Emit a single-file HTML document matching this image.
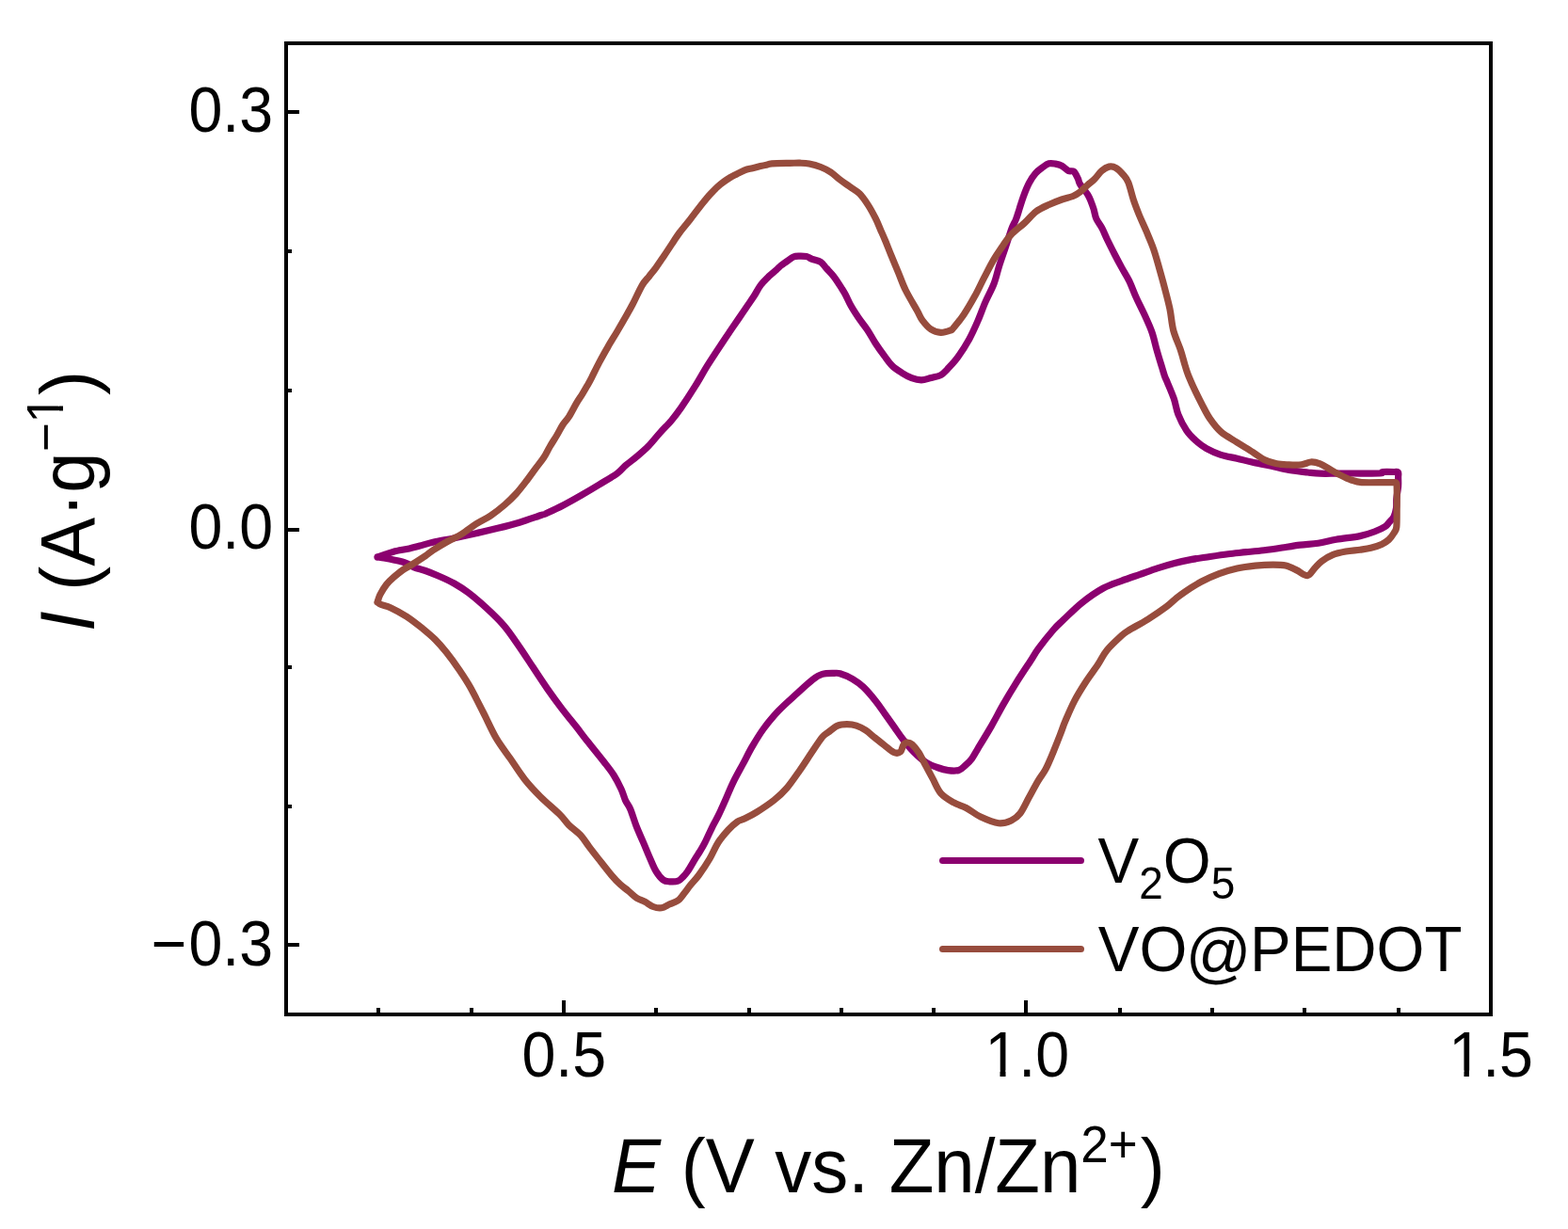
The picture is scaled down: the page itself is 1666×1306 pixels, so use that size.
<!DOCTYPE html>
<html><head><meta charset="utf-8"><title>CV</title>
<style>
html,body{margin:0;padding:0;background:#fff;}
body{width:1666px;height:1306px;overflow:hidden;position:relative;}
svg{position:absolute;left:0;top:0;}
text{font-family:"Liberation Sans",Arial,sans-serif;fill:#000;}
</style></head><body>
<svg width="1666" height="1306" viewBox="0 0 1666 1306">
<rect x="0" y="0" width="1666" height="1306" fill="#fff"/>
<g fill="#000" shape-rendering="crispEdges">
<rect x="302" y="44" width="1284" height="4"/>
<rect x="302" y="1076" width="1284" height="4"/>
<rect x="302" y="44" width="4" height="1036"/>
<rect x="1582" y="44" width="4" height="1036"/>
<rect x="306" y="117" width="12" height="4"/><rect x="306" y="561" width="12" height="4"/><rect x="306" y="1002" width="12" height="4"/><rect x="306" y="265" width="4" height="4"/><rect x="306" y="413" width="4" height="4"/><rect x="306" y="707" width="4" height="4"/><rect x="306" y="855" width="4" height="4"/><rect x="597" y="1063" width="4" height="13"/><rect x="1088" y="1063" width="4" height="13"/><rect x="400" y="1071" width="4" height="5"/><rect x="499" y="1071" width="4" height="5"/><rect x="695" y="1071" width="4" height="5"/><rect x="794" y="1071" width="4" height="5"/><rect x="892" y="1071" width="4" height="5"/><rect x="990" y="1071" width="4" height="5"/><rect x="1188" y="1071" width="4" height="5"/><rect x="1286" y="1071" width="4" height="5"/><rect x="1384" y="1071" width="4" height="5"/><rect x="1484" y="1071" width="4" height="5"/>
</g>
<g fill="none" stroke-width="7.2" stroke-linejoin="round" stroke-linecap="round">
<path stroke="#8b006f" d="M401.0 592.0C402.5 591.5 407.1 590.0 410.0 589.0C412.9 588.0 414.2 587.2 418.3 586.2C422.4 585.2 430.2 583.9 434.8 582.9C439.4 581.9 441.8 581.1 446.0 580.0C450.2 578.9 453.8 577.7 460.0 576.3C466.2 574.9 475.4 573.3 483.0 571.7C490.6 570.1 498.2 568.4 505.9 566.7C513.5 565.0 521.2 563.2 528.9 561.3C536.6 559.4 544.2 557.5 551.9 555.2C559.6 552.9 570.3 549.0 574.9 547.5C579.5 546.0 575.6 547.8 579.5 546.0C583.4 544.2 592.0 540.3 598.3 537.0C604.6 533.7 611.0 530.1 617.4 526.4C623.8 522.7 630.2 518.9 636.6 515.0C643.0 511.1 651.1 506.5 655.8 503.1C660.4 499.7 661.0 497.8 664.5 494.8C668.0 491.8 672.7 488.5 676.8 485.0C680.9 481.5 684.9 478.2 689.0 474.0C693.1 469.8 697.2 464.4 701.3 459.9C705.4 455.3 709.8 451.1 713.5 446.7C717.2 442.3 719.4 439.4 723.6 433.4C727.8 427.3 733.8 418.1 738.6 410.4C743.4 402.7 747.5 395.0 752.3 387.4C757.1 379.8 763.3 370.5 767.3 364.5C771.2 358.5 773.0 355.9 776.0 351.5C779.0 347.1 782.3 342.4 785.0 338.4C787.7 334.4 789.8 331.3 792.4 327.4C795.0 323.5 798.2 319.2 800.9 315.1C803.5 311.0 805.6 306.5 808.3 302.9C811.0 299.3 814.1 296.4 816.9 293.7C819.7 291.0 822.9 288.6 825.1 286.6C827.3 284.7 828.0 283.6 830.0 282.0C832.0 280.4 835.2 278.2 837.4 276.7C839.6 275.2 841.1 273.8 843.0 273.0C844.9 272.2 846.7 272.2 849.0 272.1C851.3 272.0 854.5 272.1 856.8 272.6C859.1 273.1 860.3 274.3 862.9 275.3C865.5 276.3 869.5 276.8 872.1 278.5C874.7 280.2 875.9 282.8 878.2 285.3C880.5 287.8 883.2 290.4 885.8 293.7C888.3 297.0 891.5 302.0 893.5 305.2C895.5 308.4 896.3 309.5 898.1 312.8C899.9 316.1 901.9 321.0 904.2 325.1C906.5 329.2 909.0 333.0 911.9 337.3C914.8 341.6 918.7 346.2 921.7 350.7C924.7 355.2 927.0 359.9 930.0 364.5C933.0 369.1 936.6 374.2 939.6 378.2C942.6 382.2 944.8 385.6 947.9 388.6C951.0 391.6 954.8 394.0 958.2 396.2C961.7 398.4 965.2 400.4 968.6 401.7C972.0 403.0 975.5 403.9 978.9 403.9C982.3 403.9 985.8 402.4 989.3 401.5C992.8 400.6 996.7 400.1 999.6 398.6C1002.5 397.1 1003.5 395.5 1006.5 392.4C1009.5 389.2 1013.7 385.1 1017.6 379.7C1021.5 374.3 1026.3 366.7 1029.9 360.2C1033.5 353.7 1036.3 347.2 1039.1 340.7C1041.9 334.2 1044.1 327.6 1046.9 321.1C1049.7 314.6 1053.5 308.1 1056.0 301.6C1058.5 295.1 1059.7 288.6 1061.8 282.1C1063.9 275.6 1066.2 269.1 1068.4 262.6C1070.6 256.1 1073.1 247.9 1074.9 243.0C1076.8 238.1 1078.1 236.5 1079.5 233.0C1080.9 229.5 1081.8 226.1 1083.1 222.0C1084.4 217.9 1085.9 212.8 1087.6 208.2C1089.3 203.6 1091.3 198.5 1093.4 194.5C1095.5 190.5 1097.9 186.9 1100.3 184.1C1102.7 181.3 1105.2 179.6 1107.6 177.9C1110.0 176.2 1112.2 174.4 1114.5 173.8C1116.8 173.2 1119.1 173.7 1121.4 174.1C1123.7 174.5 1125.9 175.0 1128.2 176.2C1130.5 177.4 1133.0 180.4 1135.1 181.4C1137.2 182.4 1139.3 181.0 1141.0 182.4C1142.7 183.8 1144.3 187.7 1145.4 189.9C1146.5 192.1 1145.8 192.7 1147.5 195.6C1149.2 198.5 1154.0 204.0 1155.9 207.1C1157.8 210.2 1158.1 211.5 1159.1 214.0C1160.1 216.5 1161.0 218.9 1162.0 222.0C1163.0 225.1 1163.3 229.0 1164.8 232.4C1166.3 235.8 1169.1 239.0 1171.0 242.7C1172.9 246.4 1174.2 250.0 1176.4 254.5C1178.6 259.0 1181.3 264.5 1183.9 269.5C1186.5 274.5 1189.2 279.6 1191.8 284.4C1194.4 289.2 1197.1 293.0 1199.7 298.4C1202.3 303.8 1204.7 310.7 1207.5 316.8C1210.3 322.9 1213.5 329.0 1216.3 335.1C1219.1 341.2 1222.0 347.4 1224.1 353.5C1226.2 359.6 1227.3 365.8 1229.1 371.9C1230.8 378.0 1233.2 385.7 1234.6 390.3C1236.0 394.9 1236.4 396.8 1237.4 399.5C1238.4 402.2 1238.8 402.8 1240.5 406.8C1242.2 410.8 1245.4 418.1 1247.3 423.7C1249.2 429.3 1249.7 434.9 1251.9 440.5C1254.1 446.1 1257.6 452.8 1260.7 457.4C1263.8 462.0 1266.9 464.9 1270.4 468.1C1273.9 471.3 1277.4 474.1 1281.9 476.7C1286.4 479.2 1291.8 481.6 1297.2 483.4C1302.6 485.1 1308.9 485.9 1314.4 487.2C1319.9 488.5 1324.1 489.8 1330.0 491.1C1335.9 492.4 1343.2 493.7 1349.8 495.1C1356.4 496.5 1363.0 498.4 1369.6 499.5C1376.2 500.6 1383.9 501.4 1389.4 502.0C1394.9 502.6 1397.5 503.0 1402.6 503.2C1407.7 503.4 1414.3 503.2 1420.0 503.2C1425.7 503.2 1428.9 503.0 1436.6 503.0C1444.3 503.0 1460.6 503.2 1466.0 503.0C1471.4 502.8 1466.5 501.8 1469.0 501.5C1471.5 501.2 1478.2 501.4 1481.0 501.5C1483.8 501.6 1484.7 500.9 1485.5 501.8C1486.3 502.7 1485.6 504.5 1485.6 507.0C1485.6 509.5 1485.9 513.2 1485.6 517.0C1485.3 520.8 1484.1 526.2 1483.8 530.0C1483.5 533.8 1484.0 536.8 1483.5 540.0C1483.0 543.2 1482.2 546.5 1481.0 549.0C1479.8 551.5 1477.5 553.2 1476.0 555.0C1474.5 556.8 1474.4 557.8 1471.8 559.5C1469.2 561.2 1464.8 563.3 1460.3 565.0C1455.8 566.7 1451.8 568.2 1445.0 569.6C1438.2 571.0 1427.1 572.0 1419.7 573.3C1412.3 574.6 1407.0 576.2 1400.6 577.2C1394.2 578.2 1387.8 578.3 1381.4 579.1C1375.0 579.9 1368.7 581.0 1362.3 582.0C1355.9 583.0 1349.5 584.0 1343.1 584.8C1336.7 585.6 1330.4 586.1 1324.0 586.7C1317.6 587.4 1311.3 587.9 1304.9 588.7C1298.5 589.5 1292.1 590.5 1285.7 591.5C1279.3 592.5 1272.9 593.2 1266.6 594.4C1260.3 595.6 1254.2 596.9 1248.0 598.5C1241.8 600.1 1235.9 601.9 1229.7 603.9C1223.5 605.9 1217.0 608.4 1210.6 610.6C1204.2 612.8 1197.8 614.9 1191.4 617.3C1185.0 619.7 1179.2 621.2 1172.3 625.0C1165.4 628.8 1156.9 634.7 1149.8 640.3C1142.7 645.9 1135.0 653.9 1129.9 658.7C1124.9 663.5 1123.9 663.9 1119.5 669.0C1115.1 674.1 1107.6 683.4 1103.4 689.1C1099.2 694.8 1098.5 696.9 1094.5 703.0C1090.5 709.1 1084.4 718.2 1079.6 725.9C1074.8 733.5 1070.2 741.2 1065.8 748.9C1061.4 756.6 1057.6 764.2 1053.2 771.9C1048.8 779.5 1042.9 789.1 1039.4 794.8C1036.0 800.5 1034.8 803.2 1032.5 806.3C1030.2 809.4 1027.8 811.5 1025.5 813.5C1023.2 815.5 1021.8 817.6 1018.7 818.5C1015.7 819.4 1011.0 819.1 1007.2 818.6C1003.4 818.1 999.5 816.8 995.7 815.5C991.9 814.2 988.5 813.3 984.4 810.6C980.3 807.9 975.1 803.2 971.0 799.1C966.9 795.0 963.0 790.2 959.5 785.7C956.0 781.2 953.2 776.8 950.0 772.3C946.8 767.8 943.6 763.4 940.4 758.9C937.2 754.4 934.6 750.3 930.8 745.5C927.0 740.7 921.5 734.2 917.4 730.2C913.2 726.2 910.0 724.0 905.9 721.6C901.8 719.2 895.8 716.8 892.5 715.8C889.2 714.8 889.4 715.3 886.3 715.4C883.2 715.5 877.5 715.3 873.7 716.4C869.9 717.5 868.0 718.7 863.6 722.1C859.2 725.5 853.3 731.0 847.2 736.6C841.1 742.2 833.0 749.2 827.0 755.5C821.0 761.8 815.8 768.2 811.2 774.5C806.6 780.8 802.9 787.1 799.2 793.4C795.5 799.7 792.5 806.1 789.1 812.4C785.7 818.7 782.1 825.0 779.0 831.3C775.9 837.6 773.3 844.4 770.7 850.3C768.1 856.2 765.4 862.2 763.2 866.7C761.0 871.2 759.8 872.9 757.4 877.6C755.0 882.4 751.4 890.6 749.1 895.2C746.8 899.8 745.3 902.1 743.5 905.0C741.7 907.9 740.6 909.3 738.5 912.8C736.4 916.3 732.8 922.8 730.6 926.0C728.4 929.2 727.2 930.3 725.5 932.0C723.8 933.7 722.7 935.4 720.4 936.2C718.1 937.0 714.2 937.0 711.6 936.8C709.0 936.6 707.0 936.8 704.6 935.0C702.2 933.2 699.4 929.7 697.1 926.0C694.8 922.3 693.2 917.9 690.9 912.8C688.6 907.7 686.0 901.1 683.5 895.2C681.0 889.3 678.3 883.5 676.0 877.6C673.7 871.7 671.7 864.5 669.8 860.0C667.9 855.5 666.1 854.1 664.5 850.5C662.9 846.9 662.1 843.0 660.0 838.5C657.9 834.0 655.0 828.2 652.0 823.5C649.0 818.8 646.7 816.0 642.0 810.0C637.3 804.0 629.0 793.8 624.0 787.5C619.0 781.2 616.8 778.0 612.3 772.3C607.8 766.6 602.1 759.8 597.0 753.1C591.9 746.4 586.8 739.4 581.7 732.1C576.6 724.8 571.4 716.8 566.3 709.1C561.2 701.4 556.1 693.4 551.0 686.1C545.9 678.8 541.4 671.8 535.7 665.1C530.0 658.4 523.0 651.8 516.6 645.9C510.2 640.0 503.1 634.0 497.4 629.7C491.7 625.4 487.9 623.0 482.6 620.0C477.3 617.0 470.9 614.2 465.8 612.0C460.7 609.8 456.3 608.0 452.0 606.5C447.7 605.0 443.4 604.3 440.0 602.9C436.6 601.5 435.0 599.6 431.4 598.3C427.8 597.0 422.2 595.9 418.3 595.0C414.4 594.1 410.9 593.5 408.0 593.0C405.1 592.5 402.2 592.2 401.0 592.0"/>
<path stroke="#974c3d" d="M401.0 640.0C401.5 638.7 402.2 635.2 403.8 632.0C405.4 628.8 408.4 624.0 410.7 621.0C413.0 618.0 414.7 616.6 417.6 614.1C420.5 611.6 424.5 608.2 427.9 605.8C431.3 603.4 434.2 602.1 438.2 599.6C442.2 597.1 448.4 593.2 452.0 590.7C455.6 588.2 456.1 587.2 460.0 584.7C463.9 582.2 470.2 578.4 475.3 575.5C480.4 572.6 485.5 570.6 490.6 567.5C495.7 564.4 500.8 560.1 505.9 556.8C511.0 553.5 516.2 551.3 521.3 547.9C526.4 544.5 532.1 540.0 536.6 536.1C541.1 532.2 544.6 528.8 548.5 524.5C552.4 520.2 556.5 514.7 560.0 510.2C563.5 505.7 566.4 501.4 569.4 497.4C572.4 493.4 575.4 489.8 577.9 486.0C580.4 482.2 582.0 478.3 584.3 474.5C586.5 470.7 589.1 466.8 591.4 463.0C593.7 459.2 595.7 454.9 597.9 451.5C600.1 448.1 602.4 446.1 604.8 442.3C607.2 438.5 610.1 432.6 612.4 428.7C614.7 424.8 616.5 422.3 618.5 419.1C620.5 415.9 622.4 412.6 624.1 409.6C625.8 406.6 626.5 405.4 628.6 401.3C630.7 397.2 633.8 390.5 636.7 385.1C639.6 379.7 642.6 374.2 645.8 368.8C648.9 363.4 652.4 357.9 655.6 352.5C658.8 347.1 662.2 341.2 665.0 336.3C667.8 331.4 669.3 328.8 672.2 323.3C675.1 317.8 679.4 308.0 682.3 303.1C685.2 298.2 687.2 296.9 689.7 293.7C692.2 290.5 694.5 287.8 697.2 284.1C699.9 280.4 702.7 276.1 705.8 271.5C708.9 266.9 713.2 260.3 715.9 256.2C718.6 252.1 719.4 250.8 722.2 247.0C725.0 243.2 729.3 238.2 732.9 233.7C736.5 229.1 740.0 224.2 743.6 219.7C747.2 215.2 750.7 210.6 754.3 206.7C757.9 202.8 761.4 199.2 765.0 196.2C768.6 193.2 772.8 190.5 775.8 188.6C778.8 186.7 780.2 186.3 782.8 185.0C785.4 183.7 788.4 181.9 791.2 180.8C794.0 179.8 796.8 179.4 799.6 178.7C802.4 178.0 805.5 177.2 808.0 176.6C810.5 176.0 812.3 175.6 814.3 175.2C816.3 174.8 815.9 174.2 820.1 173.9C824.3 173.6 834.3 173.5 839.3 173.4C844.3 173.3 846.6 173.1 850.0 173.2C853.4 173.3 856.0 173.3 859.7 174.0C863.4 174.7 868.2 176.0 872.0 177.5C875.8 179.0 879.4 180.7 882.7 182.9C886.0 185.1 888.6 187.9 891.9 190.5C895.2 193.1 899.0 195.6 902.6 198.2C906.2 200.8 910.0 202.5 913.3 205.8C916.6 209.1 919.7 213.8 922.5 218.1C925.3 222.4 928.0 227.6 930.2 231.9C932.4 236.2 933.7 239.9 935.5 244.0C937.3 248.1 939.0 251.8 940.9 256.4C942.8 261.0 944.7 266.1 947.0 271.7C949.3 277.3 952.2 284.0 954.7 290.1C957.2 296.2 959.0 301.9 962.3 308.5C965.6 315.1 971.4 324.7 974.4 330.0C977.4 335.3 977.5 337.0 980.0 340.3C982.5 343.6 986.0 347.8 989.3 350.0C992.6 352.2 996.2 353.2 999.6 353.4C1003.0 353.6 1007.7 351.8 1009.9 351.0C1012.1 350.2 1010.6 351.3 1013.0 348.5C1015.4 345.7 1020.3 339.8 1024.1 334.2C1027.9 328.6 1032.2 321.1 1035.8 314.6C1039.4 308.1 1042.2 301.6 1045.6 295.1C1049.0 288.6 1052.8 281.0 1056.0 275.6C1059.2 270.2 1061.5 267.0 1064.5 262.6C1067.5 258.2 1070.2 253.8 1074.2 249.5C1078.2 245.2 1084.1 241.1 1088.5 237.0C1092.9 232.9 1096.4 228.1 1100.7 224.8C1105.0 221.6 1109.9 219.6 1114.5 217.5C1119.1 215.4 1124.0 213.5 1128.2 212.0C1132.5 210.5 1136.8 209.8 1140.0 208.5C1143.2 207.2 1145.2 205.8 1147.7 203.9C1150.2 202.0 1152.8 199.1 1155.3 196.8C1157.8 194.5 1160.5 192.9 1163.0 190.3C1165.5 187.8 1168.0 183.7 1170.6 181.5C1173.1 179.3 1175.8 177.6 1178.3 177.1C1180.8 176.6 1183.4 177.1 1185.9 178.6C1188.5 180.1 1191.4 183.3 1193.6 185.9C1195.8 188.5 1197.1 189.4 1198.9 194.0C1200.7 198.6 1202.7 207.4 1204.6 213.2C1206.5 218.9 1208.2 223.1 1210.4 228.5C1212.6 233.9 1215.5 239.6 1218.0 245.7C1220.5 251.8 1223.5 258.5 1225.7 264.9C1227.9 271.3 1229.5 277.3 1231.4 284.0C1233.3 290.7 1235.3 297.8 1237.2 305.1C1239.1 312.4 1241.3 320.4 1242.9 328.0C1244.5 335.6 1244.8 343.6 1246.7 351.0C1248.6 358.4 1252.4 365.9 1254.4 372.1C1256.5 378.3 1257.6 383.5 1259.0 388.0C1260.4 392.5 1260.8 394.4 1262.7 399.1C1264.6 403.8 1267.8 411.0 1270.4 416.4C1273.0 421.8 1275.5 426.9 1278.1 431.7C1280.6 436.5 1282.5 440.6 1285.7 445.1C1288.9 449.7 1292.7 454.9 1297.4 459.0C1302.2 463.1 1308.6 466.4 1314.2 470.0C1319.8 473.6 1326.3 477.4 1331.1 480.5C1335.9 483.6 1339.0 486.4 1343.2 488.5C1347.4 490.6 1352.0 491.9 1356.4 492.8C1360.8 493.7 1365.2 493.7 1369.6 493.9C1374.0 494.1 1378.9 494.3 1382.8 493.8C1386.7 493.3 1389.4 491.2 1392.7 491.0C1396.0 490.8 1399.3 491.6 1402.6 492.8C1405.9 494.0 1409.2 496.5 1412.5 498.4C1415.8 500.3 1418.6 502.1 1422.4 504.0C1426.2 505.9 1431.5 508.6 1435.6 510.0C1439.7 511.4 1440.8 512.2 1446.8 512.6C1452.8 513.0 1466.2 512.6 1471.7 512.6C1477.2 512.6 1477.5 512.6 1479.5 512.7C1481.5 512.8 1482.7 511.9 1483.5 513.0C1484.3 514.0 1484.1 514.5 1484.2 519.0C1484.3 523.5 1484.3 533.2 1484.2 540.0C1484.1 546.8 1484.3 555.6 1483.8 560.0C1483.3 564.4 1482.4 564.2 1481.0 566.5C1479.6 568.8 1477.8 571.5 1475.6 573.5C1473.4 575.5 1471.2 576.9 1468.0 578.4C1464.8 579.9 1460.3 581.3 1456.5 582.3C1452.7 583.3 1449.4 583.6 1445.0 584.2C1440.6 584.8 1434.8 585.1 1429.9 586.0C1425.1 586.9 1420.2 587.9 1415.9 589.6C1411.7 591.3 1407.6 593.9 1404.4 596.3C1401.2 598.7 1399.2 601.5 1396.7 604.0C1394.2 606.5 1392.3 611.3 1389.1 611.6C1385.9 611.9 1381.4 607.6 1377.6 605.9C1373.8 604.1 1370.2 602.1 1366.1 601.1C1361.9 600.1 1358.1 600.1 1352.7 600.1C1347.3 600.1 1340.0 600.5 1333.6 601.1C1327.2 601.8 1320.8 602.6 1314.4 604.0C1308.0 605.4 1301.7 607.3 1295.3 609.7C1288.9 612.1 1282.2 615.1 1276.1 618.3C1270.0 621.5 1263.2 626.0 1258.9 628.9C1254.6 631.8 1253.2 632.9 1250.0 635.5C1246.8 638.1 1244.5 640.9 1239.4 644.7C1234.3 648.5 1226.1 654.1 1219.5 658.2C1212.9 662.4 1204.3 666.7 1199.6 669.6C1194.9 672.5 1195.3 672.1 1191.4 675.7C1187.5 679.3 1180.2 685.9 1176.1 691.0C1171.9 696.1 1170.3 700.5 1166.5 706.3C1162.7 712.0 1157.2 719.1 1153.1 725.5C1149.0 731.9 1145.2 737.9 1141.7 744.6C1138.2 751.3 1134.7 759.6 1132.1 765.7C1129.5 771.8 1128.5 775.3 1126.3 781.0C1124.1 786.7 1121.2 794.0 1118.7 800.1C1116.2 806.2 1113.6 812.5 1111.0 817.4C1108.4 822.3 1106.0 824.8 1103.1 829.7C1100.2 834.6 1096.7 841.2 1093.5 847.0C1090.3 852.8 1087.2 860.1 1084.0 864.2C1080.8 868.4 1078.2 870.1 1074.4 871.9C1070.6 873.6 1066.4 875.4 1061.0 874.7C1055.6 874.1 1047.7 870.7 1041.9 868.0C1036.2 865.3 1031.3 861.0 1026.5 858.5C1021.7 856.0 1017.6 855.3 1013.1 852.7C1008.6 850.1 1003.4 847.3 999.7 843.1C996.0 838.9 993.6 832.2 991.0 827.4C988.4 822.6 986.5 819.0 984.0 814.4C981.5 809.8 978.5 803.4 976.0 799.5C973.5 795.6 971.0 792.8 969.0 791.0C967.0 789.2 965.5 788.9 964.0 789.0C962.5 789.1 961.2 789.8 960.0 791.5C958.8 793.2 958.3 797.7 956.6 799.0C954.9 800.3 952.5 800.7 949.7 799.5C946.9 798.3 943.0 794.6 939.7 792.0C936.4 789.4 933.1 786.8 929.8 784.1C926.5 781.5 923.1 778.3 919.8 776.1C916.5 773.9 913.2 772.2 909.9 771.1C906.6 770.0 903.2 769.7 899.9 769.7C896.6 769.7 893.3 769.7 890.0 771.1C886.7 772.5 882.7 776.1 880.0 778.1C877.3 780.1 876.7 779.7 873.7 783.3C870.8 786.9 866.3 793.9 862.3 799.8C858.3 805.7 854.1 812.4 849.7 818.7C845.3 825.0 840.3 832.4 835.8 837.7C831.3 843.0 827.8 846.1 822.5 850.3C817.2 854.5 809.5 859.6 804.2 862.9C799.0 866.2 794.5 868.3 791.0 870.0C787.5 871.7 786.3 871.2 783.4 873.2C780.5 875.2 777.1 878.3 773.7 882.0C770.3 885.7 766.4 890.1 763.1 895.2C759.8 900.3 757.3 907.0 753.9 912.8C750.5 918.6 745.9 925.4 742.5 930.0C739.1 934.6 736.2 937.3 733.6 940.6C731.0 943.9 728.8 947.1 726.6 949.8C724.4 952.5 722.9 955.1 720.4 956.9C717.9 958.7 714.5 959.5 711.6 960.8C708.7 962.1 705.7 964.3 702.8 964.8C699.9 965.2 696.9 964.6 694.0 963.5C691.1 962.4 688.1 959.8 685.2 958.2C682.3 956.7 679.3 956.1 676.4 954.2C673.5 952.3 670.5 949.1 667.6 946.7C664.7 944.3 661.7 942.4 658.8 939.7C655.9 937.0 653.7 934.8 650.0 930.4C646.3 926.0 640.5 918.5 636.5 913.4C632.5 908.3 629.1 904.0 625.8 899.6C622.5 895.2 620.2 891.1 616.6 887.3C613.0 883.5 608.0 880.3 604.3 876.6C600.6 872.9 599.5 870.3 594.5 865.3C589.5 860.3 580.5 852.9 574.3 846.7C568.1 840.5 562.8 834.9 557.5 828.2C552.2 821.5 547.3 813.6 542.3 806.3C537.2 799.0 532.0 792.5 527.2 784.4C522.4 776.3 518.3 766.5 513.7 757.5C509.1 748.5 503.8 737.8 499.5 730.1C495.2 722.5 491.9 717.8 487.7 711.6C483.5 705.4 478.4 698.4 474.2 693.1C470.0 687.8 466.6 683.8 462.4 679.6C458.2 675.4 453.9 671.9 448.9 667.8C443.8 663.7 437.7 658.9 432.1 655.2C426.5 651.6 419.8 648.0 415.3 645.9C410.8 643.8 407.4 643.5 405.0 642.5C402.6 641.5 401.7 640.4 401.0 640.0"/>
</g>
<g stroke-width="7" stroke-linecap="round">
<line x1="1001.5" y1="914.5" x2="1148.5" y2="914.5" stroke="#8b006f"/>
<line x1="1001.5" y1="1008.5" x2="1148.5" y2="1008.5" stroke="#974c3d"/>
</g>
<g font-size="64.5">
<text transform="translate(200.5,140.3) scale(1,1.05)">0.3</text>
<text transform="translate(200.5,583.4) scale(1,1.05)">0.0</text>
<text transform="translate(160.8,1025.5) scale(1,1.05)">&#8722;</text>
<text transform="translate(200.5,1025.5) scale(1,1.05)">0.3</text>
<text transform="translate(554.5,1143.6) scale(1,1.05)">0.5</text>
<text transform="translate(1046.4,1143.6) scale(1,1.05)">1.0</text>
<text transform="translate(1539.3,1143.6) scale(1,1.05)">1.5</text>
</g>
<g font-size="65.5">
<text transform="translate(1166.5,938) scale(1,1.035)">V<tspan font-size="46" dy="16.1">2</tspan><tspan dy="-16.1">O</tspan><tspan font-size="46" dy="16.1">5</tspan></text>
<text transform="translate(1166.7,1032) scale(1,1.035)">VO<tspan font-size="68.8" dx="-1.6" dy="3.9">@</tspan><tspan dx="-1.6" dy="-3.9">PEDOT</tspan></text>
</g>
<g font-size="78">
<text transform="translate(650,1267) scale(1,1.037)"><tspan font-style="italic">E</tspan> (V vs. Zn/Zn<tspan font-size="53" dy="-30.8">2+</tspan><tspan dx="3" dy="30.8">)</tspan></text>
<text transform="translate(100,671) rotate(-90) scale(1,1.037)"><tspan font-style="italic">I</tspan> (A&#183;g<tspan font-size="53" dy="-31.8">&#8722;1</tspan><tspan dy="31.8">)</tspan></text>
</g>
<g fill="#fff">
<rect x="1049" y="1137.5" width="13.5" height="7.5"/><rect x="1068.5" y="1137.5" width="14" height="7.5"/>
<rect x="1542" y="1137.5" width="13.5" height="7.5"/><rect x="1561" y="1137.5" width="14" height="7.5"/>
<rect x="61.8" y="420" width="6.5" height="11.5"/><rect x="61.8" y="436.5" width="6.5" height="10.5"/>
</g>
</svg>
</body></html>
